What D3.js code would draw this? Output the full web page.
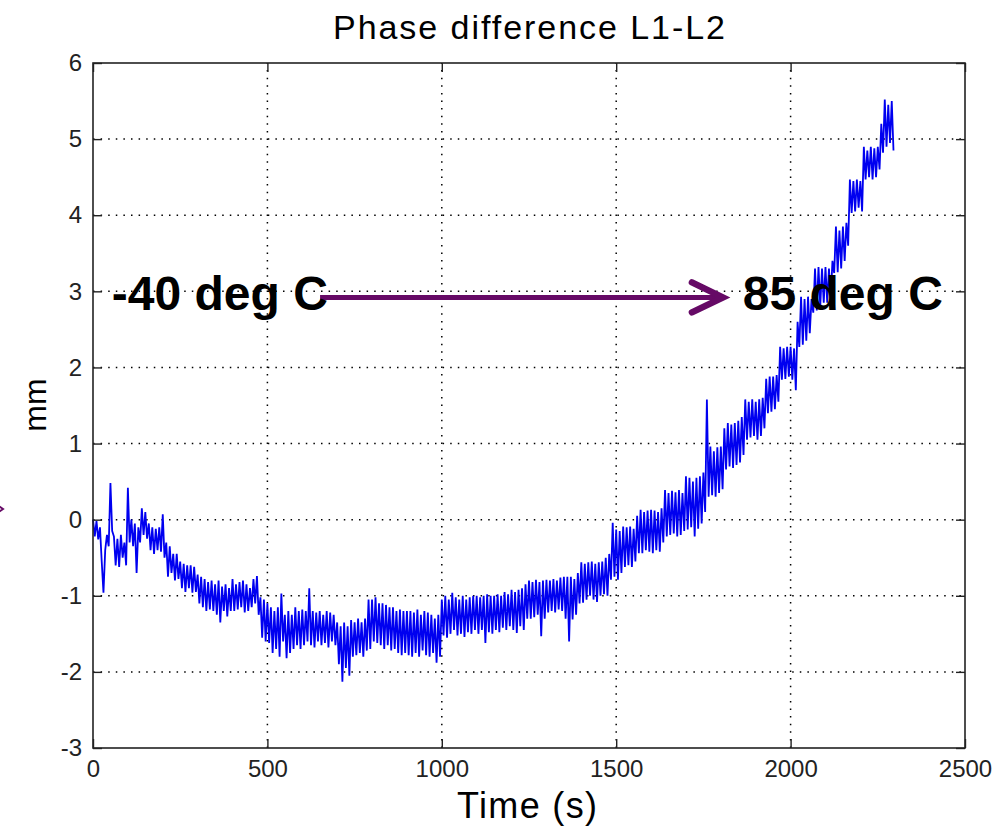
<!DOCTYPE html>
<html>
<head>
<meta charset="utf-8">
<script src="https://cdn.jsdelivr.net/npm/d3@7"></script>
<style>
  body { margin: 0; background: #fff; }
  svg { display: block; font-family: "Liberation Sans", Arial, sans-serif; }
</style>
</head>
<body>
<svg id="chart" width="999" height="832"></svg>
<script>
// sample spacing of the record, seconds
var sampleStep = 5;
// phase difference L1-L2 in mm, one value per sample, 100 s per row
var phaseDiff = [
  0, -0.22, -0.02, -0.26, -0.1, -0.55, -0.96, -0.4, -0.2, -0.35, 0.48, -0.15, -0.22, -0.6, -0.25, -0.62, -0.2, -0.5, -0.3, -0.6,
  0.42, -0.3, 0.0, -0.35, -0.05, -0.7, -0.1, -0.3, 0.15, -0.2, 0.1, -0.25, -0.05, -0.4, -0.1, -0.45, -0.12, -0.4, -0.1, -0.42,
  0.07, -0.5, -0.3, -0.75, -0.35, -0.7, -0.45, -0.8, -0.45, -0.78, -0.55, -0.9, -0.58, -0.95, -0.6, -0.9, -0.6, -0.96, -0.62, -0.95,
  -0.72, -1.1, -0.75, -1.15, -0.78, -1.2, -0.82, -1.18, -0.8, -1.2, -0.85, -1.25, -0.8, -1.35, -0.88, -1.2, -0.85, -1.27, -0.9, -1.2,
  -0.78, -1.2, -0.85, -1.18, -0.82, -1.15, -0.8, -1.22, -0.85, -1.2, -0.9, -1.15, -0.78, -1.1, -0.74, -1.25, -1.02, -1.55, -1.05, -1.6,
  -1.1, -1.62, -1.15, -1.75, -1.2, -1.7, -1.15, -1.8, -0.97, -1.6, -1.25, -1.82, -1.2, -1.75, -1.25, -1.7, -1.15, -1.65, -1.2, -1.7,
  -1.18, -1.65, -1.2, -1.6, -0.9, -1.65, -1.2, -1.68, -1.22, -1.6, -1.2, -1.65, -1.25, -1.62, -1.2, -1.68, -1.22, -1.6, -1.25, -1.65,
  -1.35, -1.9, -1.4, -2.13, -1.35, -1.95, -1.4, -2.05, -1.32, -1.8, -1.35, -1.78, -1.3, -1.75, -1.35, -1.8, -1.3, -1.72, -1.05, -1.7,
  -1.05, -1.6, -1.02, -1.62, -1.1, -1.65, -1.1, -1.7, -1.12, -1.65, -1.15, -1.72, -1.15, -1.7, -1.2, -1.75, -1.18, -1.78, -1.2, -1.75,
  -1.2, -1.78, -1.2, -1.8, -1.22, -1.75, -1.18, -1.8, -1.25, -1.72, -1.2, -1.78, -1.22, -1.8, -1.25, -1.75, -1.3, -1.88, -1.25, -1.8,
  -1.05, -1.52, -1.0, -1.55, -1.05, -1.5, -0.96, -1.45, -1.02, -1.52, -1.05, -1.5, -1.0, -1.54, -1.05, -1.48, -1.02, -1.5, -1.0, -1.45,
  -1.0, -1.5, -1.02, -1.45, -1.0, -1.62, -0.98, -1.48, -1.0, -1.5, -1.0, -1.45, -0.98, -1.48, -1.0, -1.42, -0.95, -1.45, -0.98, -1.4,
  -0.92, -1.45, -0.95, -1.49, -0.92, -1.4, -0.9, -1.45, -0.85, -1.3, -0.8, -1.3, -0.82, -1.28, -0.79, -1.25, -0.82, -1.53, -0.8, -1.3,
  -0.79, -1.22, -0.8, -1.2, -0.78, -1.22, -0.8, -1.18, -0.76, -1.2, -0.75, -1.3, -0.75, -1.6, -0.75, -1.31, -0.78, -1.25, -0.7, -1.1,
  -0.56, -1.09, -0.58, -1.05, -0.56, -1.0, -0.55, -1.05, -0.58, -1.08, -0.56, -1.0, -0.55, -0.98, -0.5, -1.0, -0.45, -0.79, -0.04, -0.75,
  -0.13, -0.79, -0.15, -0.7, -0.09, -0.62, -0.1, -0.6, -0.09, -0.62, -0.12, -0.55, 0.05, -0.44, 0.13, -0.44, 0.1, -0.4, 0.12, -0.42,
  0.13, -0.44, 0.12, -0.4, 0.1, -0.42, 0.15, -0.3, 0.39, -0.22, 0.35, -0.2, 0.38, -0.18, 0.36, -0.22, 0.39, -0.2, 0.35, -0.15,
  0.57, -0.13, 0.55, -0.1, 0.5, -0.22, 0.55, -0.12, 0.57, -0.05, 0.62, 0.1, 1.58, 0.3, 0.96, 0.32, 0.9, 0.3, 0.95, 0.35,
  0.96, 0.4, 1.2, 0.66, 1.27, 0.7, 1.25, 0.68, 1.27, 0.72, 1.3, 0.75, 1.35, 0.85, 1.58, 1.05, 1.55, 1.08, 1.58, 1.1,
  1.55, 1.05, 1.58, 1.1, 1.6, 1.2, 1.85, 1.4, 1.88, 1.42, 1.88, 1.45, 1.9, 1.55, 2.27, 1.84, 2.25, 1.85, 2.27, 1.88,
  2.27, 1.84, 2.25, 1.7, 2.6, 2.27, 2.93, 2.3, 2.9, 2.35, 2.93, 2.45, 2.9, 2.72, 3.3, 2.75, 3.32, 2.8, 3.3, 2.85,
  3.32, 2.85, 3.3, 2.9, 3.4, 3.24, 3.85, 3.25, 3.8, 3.3, 3.85, 3.4, 3.9, 3.6, 4.47, 4.03, 4.45, 4.05, 4.47, 4.1,
  4.45, 4.05, 4.9, 4.47, 4.85, 4.5, 4.9, 4.47, 4.88, 4.5, 4.9, 4.6, 5.2, 4.82, 5.52, 4.9, 5.45, 4.95, 5.5, 4.85
];
var xTicks = [0, 500, 1000, 1500, 2000, 2500];
var yTicks = [-3, -2, -1, 0, 1, 2, 3, 4, 5, 6];
var titleText = "Phase difference L1-L2";
var xLabel = "Time (s)";
var yLabel = "mm";
// annotation: label positions in data units [time, mm]
var startLabel = { text: "-40 deg C", t: 54, v: 2.75 };
var endLabel = { text: "85 deg C", t: 1863, v: 2.75 };
var arrowSpan = { t0: 651, t1: 1806, v: 2.92 };

var svg = d3.select("#chart");
var plot = { left: 93, right: 965, top: 63, bottom: 748 };

var xScale = d3.scaleLinear().domain([0, 2500]).range([plot.left, plot.right]);
var yScale = d3.scaleLinear().domain([-3, 6]).range([plot.bottom, plot.top]);

svg.append("rect").attr("width", 999).attr("height", 832).attr("fill", "#fff");

// grid
var grid = svg.append("g").attr("stroke", "#000").attr("stroke-width", 1.5)
    .attr("stroke-dasharray", "1.5,6.1");
grid.selectAll(".gx").data(xTicks.slice(1, -1)).enter().append("line")
    .attr("x1", function (d) { return xScale(d); })
    .attr("x2", function (d) { return xScale(d); })
    .attr("y1", plot.bottom).attr("y2", plot.top);
grid.selectAll(".gy").data(yTicks.slice(1, -1)).enter().append("line")
    .attr("x1", plot.left).attr("x2", plot.right)
    .attr("y1", function (d) { return yScale(d); })
    .attr("y2", function (d) { return yScale(d); });

// data line
var times = phaseDiff.map(function (d, i) { return i * sampleStep; });
var line = d3.line()
    .x(function (d, i) { return xScale(times[i]); })
    .y(function (d) { return yScale(d); });
svg.append("path").datum(phaseDiff)
    .attr("d", line)
    .attr("fill", "none")
    .attr("stroke", "#0000f0")
    .attr("stroke-width", 1.8)
    .attr("stroke-linejoin", "bevel");

// axes, ticks pointing inward like matlab
function plain(d) { return String(d); }
function styleAxis(g) {
    g.select(".domain").remove();
    g.selectAll(".tick line").attr("stroke", "#222").attr("stroke-width", 1.4);
    g.selectAll(".tick text").attr("fill", "#222")
        .style("font-size", "24px").style("font-family", "'Liberation Sans', Arial, sans-serif");
}
svg.append("g").attr("transform", "translate(0," + plot.bottom + ")")
    .call(d3.axisBottom(xScale).tickValues(xTicks).tickFormat(plain).tickSizeInner(-9).tickSizeOuter(0).tickPadding(12))
    .call(styleAxis);
svg.append("g").attr("transform", "translate(0," + plot.top + ")")
    .call(d3.axisTop(xScale).tickValues(xTicks).tickSizeInner(-9).tickSizeOuter(0).tickFormat(""))
    .call(styleAxis);
svg.append("g").attr("transform", "translate(" + plot.left + ",0)")
    .call(d3.axisLeft(yScale).tickValues(yTicks).tickFormat(plain).tickSizeInner(-9).tickSizeOuter(0).tickPadding(11))
    .call(styleAxis);
svg.append("g").attr("transform", "translate(" + plot.right + ",0)")
    .call(d3.axisRight(yScale).tickValues(yTicks).tickSizeInner(-9).tickSizeOuter(0).tickFormat(""))
    .call(styleAxis);

svg.append("rect")
    .attr("x", plot.left).attr("y", plot.top)
    .attr("width", plot.right - plot.left).attr("height", plot.bottom - plot.top)
    .attr("fill", "none").attr("stroke", "#222").attr("stroke-width", 1.6);

// titles
svg.append("text").attr("x", 529).attr("y", 39)
    .attr("text-anchor", "middle").attr("font-size", 34)
    .attr("textLength", 392).attr("lengthAdjust", "spacing")
    .attr("fill", "#000").text(titleText);
svg.append("text").attr("x", 527).attr("y", 818)
    .attr("text-anchor", "middle").attr("font-size", 36)
    .attr("textLength", 140).attr("lengthAdjust", "spacing")
    .attr("fill", "#000").text(xLabel);
svg.append("text").attr("transform", "translate(46,405) rotate(-90)")
    .attr("text-anchor", "middle").attr("font-size", 32)
    .attr("fill", "#000").text(yLabel);

// temperature annotation
var purple = "#660a66";
svg.append("line")
    .attr("x1", xScale(arrowSpan.t0)).attr("x2", xScale(arrowSpan.t1) - 3)
    .attr("y1", yScale(arrowSpan.v)).attr("y2", yScale(arrowSpan.v))
    .attr("stroke", purple).attr("stroke-width", 5);
var tipX = xScale(arrowSpan.t1), tipY = yScale(arrowSpan.v);
svg.append("path")
    .attr("d", "M" + (tipX - 31) + "," + (tipY - 15) + "L" + tipX + "," + tipY + "L" + (tipX - 31) + "," + (tipY + 15))
    .attr("fill", "none").attr("stroke", purple).attr("stroke-width", 6.5)
    .attr("stroke-linecap", "round").attr("stroke-linejoin", "miter");
// small cut-off arrow tip at the left edge
svg.append("path").attr("d", "M-4,504L3,509L-4,514")
    .attr("fill", "none").attr("stroke", purple).attr("stroke-width", 2);

[startLabel, endLabel].forEach(function (lab) {
    svg.append("text")
        .attr("x", xScale(lab.t)).attr("y", yScale(lab.v))
        .attr("font-size", 48).attr("font-weight", "bold")
        .attr("fill", "#000").text(lab.text);
});
</script>
</body>
</html>
